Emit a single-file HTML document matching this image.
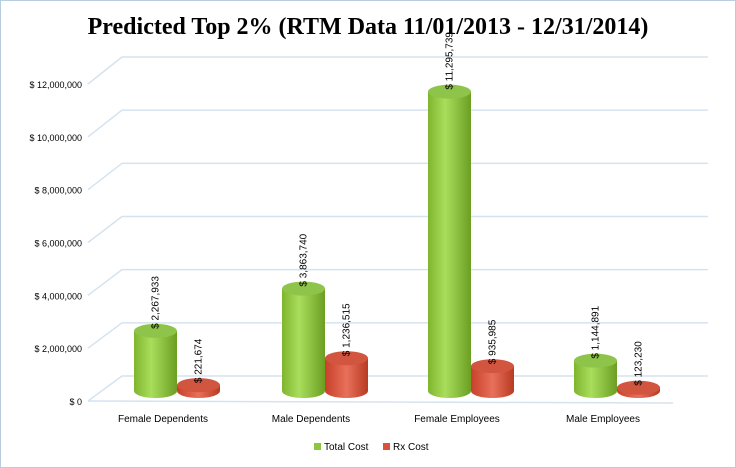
<!DOCTYPE html>
<html><head><meta charset="utf-8"><style>
body{margin:0;background:#fff}
svg{display:block;font-family:"Liberation Sans",sans-serif}
</style></head><body>
<svg width="736" height="468" viewBox="0 0 736 468">
<defs>
<linearGradient id="gG" x1="0" x2="1"><stop offset="0" stop-color="#7fb52e"/><stop offset="0.4" stop-color="#a8de5c"/><stop offset="1" stop-color="#6b9e22"/></linearGradient>
<linearGradient id="rG" x1="0" x2="1"><stop offset="0" stop-color="#c8402a"/><stop offset="0.5" stop-color="#e8705a"/><stop offset="1" stop-color="#b83a22"/></linearGradient>
</defs>
<rect x="0.5" y="0.5" width="735" height="467" fill="#fff" stroke="#b8cde0"/>
<text x="368" y="34" text-anchor="middle" font-family="Liberation Serif,serif" font-weight="bold" font-size="24">Predicted Top 2% (RTM Data 11/01/2013 - 12/31/2014)</text>
<g id="grid"></g><g id="bars"></g>
<g>
<rect x="314" y="443" width="7" height="7" fill="#8cc63f"/>
<text x="324" y="450" font-size="10">Total Cost</text>
<rect x="383" y="443" width="7" height="7" fill="#d9533c"/>
<text x="393" y="450" font-size="10">Rx Cost</text>
</g>
</svg>
<script>
const categories=["Female Dependents","Male Dependents","Female Employees","Male Employees"];
const totalCost=[2267933,3863740,11295739,1144891];
const rxCost=[221674,1236515,935985,123230];
const ticks=[0,2000000,4000000,6000000,8000000,10000000,12000000];
const tickLabels=["$ 0","$ 2,000,000","$ 4,000,000","$ 6,000,000","$ 8,000,000","$ 10,000,000","$ 12,000,000"];
const NS="http://www.w3.org/2000/svg";
function mk(p,t,a){const e=document.createElementNS(NS,t);for(const k in a)e.setAttribute(k,a[k]);p.appendChild(e);return e;}
const yFront=v=>401-v/12000000*317;
const yBack=v=>376-v/12000000*319;
const yBar=v=>391-v/1000000*26.5;
const grid=document.getElementById('grid');
ticks.forEach((t,i)=>{
  const g=mk(grid,'g',{});
  
  
  mk(g,'polyline',{points:`88,${yFront(t)} 122,${yBack(t)} 708,${yBack(t)}`,fill:'none',stroke:'#d5e3ef','stroke-width':1.5});
  const tx=mk(grid,'text',{x:82,y:yFront(t)+4,'text-anchor':'end','font-size':9});
  tx.textContent=tickLabels[i];
  
  
});
mk(grid,'line',{x1:88,y1:401,x2:673,y2:403,stroke:'#d5e3ef','stroke-width':1.5});
const bars=document.getElementById('bars');
const centers=[177,325,471,617],w=43,ry=7;
function cyl(cx,v,fill,top,name,val){
  const g=mk(bars,'g',{});
  
  
  const yt=yBar(v),yb=391,rx=w/2;
  mk(g,'path',{d:`M${cx-rx},${yt} L${cx-rx},${yb} A${rx},${ry} 0 0 0 ${cx+rx},${yb} L${cx+rx},${yt} Z`,fill:`url(#${fill})`});
  mk(g,'ellipse',{cx:cx,cy:yt,rx:rx,ry:ry,fill:top});
  const tx=mk(g,'text',{x:0,y:0,'font-size':10,transform:`translate(${cx+3},${yt-2}) rotate(-90)`});
  tx.textContent='$ '+val.toLocaleString('en-US');
}
categories.forEach((c,i)=>{
  cyl(centers[i]-w/2,totalCost[i],'gG','#8fc44a','bar-total-'+i,totalCost[i]);
  cyl(centers[i]+w/2,rxCost[i],'rG','#d2553f','bar-rx-'+i,rxCost[i]);
  const tx=mk(bars,'text',{x:centers[i]-14,y:422,'text-anchor':'middle','font-size':10});
  tx.textContent=c;
  
  
});
</script>
</body></html>
